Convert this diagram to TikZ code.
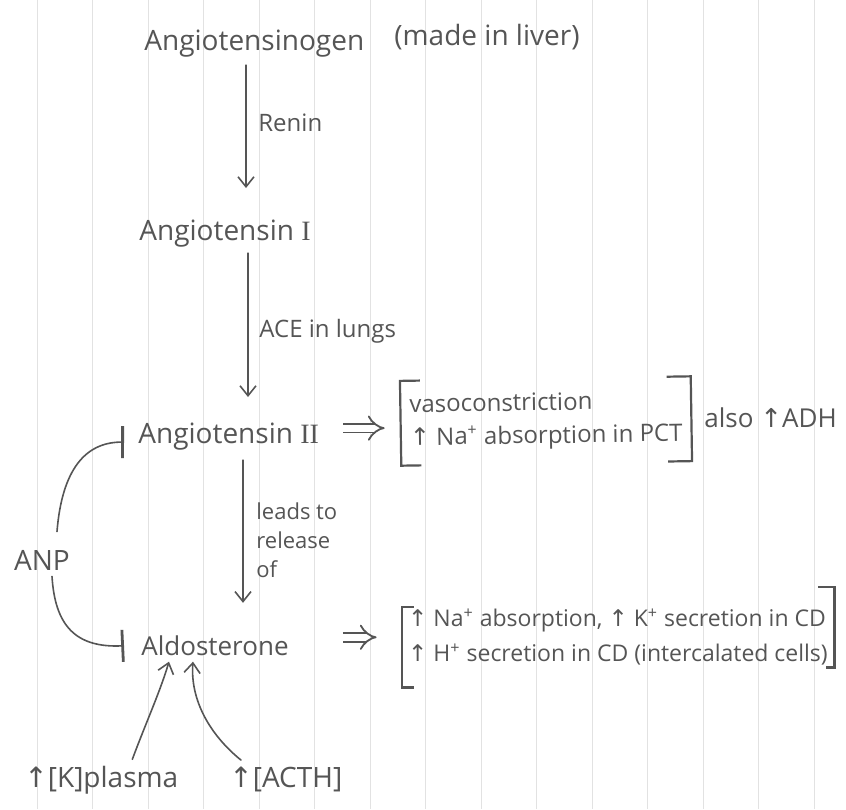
\documentclass[tikz,border=0pt]{standalone}
\usepackage{fontspec}
\setmainfont{Open Sans}
\newfontfamily\symf{DejaVu Sans}
\newfontfamily\serf{Liberation Serif}
\usetikzlibrary{arrows.meta,calc}
\newcommand{\upar}{{\symf ↑}}
\definecolor{pencil}{HTML}{555555}
\definecolor{ruling}{HTML}{E2E2E2}
\begin{document}
\begin{tikzpicture}[x=0.5pt,y=-0.5pt,
  every node/.style={text=pencil, inner sep=3pt},
  main/.style={font=\fontsize{14}{17}\selectfont},
  lbl/.style={font=\fontsize{12}{15}\selectfont, inner sep=0pt},
  eff/.style={font=\fontsize{12}{16.5}\selectfont, align=left, inner sep=0pt},
  pen/.style={draw=pencil, line width=0.8pt, line cap=round},
  arr/.style={pen, -{Straight Barb[length=5pt,width=8pt]}},
  inhib/.style={pen, -{Bar[width=16pt,line width=1.4pt]}},
  impl/.style={draw=pencil, line width=0.9pt, double=white, double distance=3.5pt, -{Implies[length=7pt,width=16pt]}},
  brk/.style={draw=pencil, line width=1.1pt},
]
\fill[white] (0,0) rectangle (846,809);
\useasboundingbox (0,0) rectangle (846,809);
\foreach \i in {0,...,14} \draw[ruling, line width=0.5pt] ({37+55.5*\i},0) -- ({37+55.5*\i},809);

% main chain
\node[main, anchor=base west] (ag) at (138,50) {Angiotensinogen};
\node[main, anchor=base west] (liver) at (388,45) {(made in liver)};
\node[main, anchor=base west] (a1) at (133,240) {Angiotensin {\serf I}};
\node[main, anchor=base west] (a2) at (132,443) {Angiotensin {\serf II}};
\node[main, font=\fontsize{13}{16}\selectfont, anchor=base west] (al) at (135,655) {Aldosterone};
\node[main, anchor=base] (anp) at (42,570) {ANP};
\node[main, anchor=base west] (kp) at (18,787) {\upar[K]plasma};
\node[main, anchor=base west] (acth) at (223,787) {\upar[ACTH]};

% labels
\node[lbl, anchor=base west] (renin) at (258,131) {Renin};
\node[lbl, anchor=base west] (ace) at (259,337) {ACE in lungs};
\node[lbl, font=\fontsize{11}{14.5}\selectfont, align=left, anchor=north west] (rel) at (256,502) {leads to\\release\\of};

% effects
\node[eff, minimum width=145pt, minimum height=42pt, rotate=0.9] (b1) at (546,421)
  {vasoconstriction\\\upar{} Na\textsuperscript{+} absorption in PCT};
\node[lbl, font=\fontsize{13}{16}\selectfont, anchor=base west] (adh) at (704,427) {also \upar{}ADH};
\node[eff, font=\fontsize{11.5}{17.5}\selectfont, minimum width=216pt, minimum height=40pt] (b2) at (618,637)
  {\upar{} Na\textsuperscript{+} absorption, \upar{} K\textsuperscript{+} secretion in CD\\\upar{} H\textsuperscript{+} secretion in CD (intercalated cells)};

% brackets
\draw[brk] ($(b1.north west)!10pt!(b1.north east)$) -- (b1.north west) -- (b1.south west) -- ($(b1.south west)!10pt!(b1.south east)$);
\draw[brk] ($(b1.north east)!12pt!(b1.north west)$) -- (b1.north east) -- (b1.south east) -- ($(b1.south east)!12pt!(b1.south west)$);
\draw[brk] ([xshift=6pt,yshift=-5pt]b2.north west) -- ([yshift=-5pt]b2.north west) -- ([yshift=-5pt]b2.south west) -- ([xshift=6pt,yshift=-5pt]b2.south west);
\draw[brk] ([xshift=-8pt,yshift=5pt]b2.north east) -- ([yshift=5pt]b2.north east) -- ([yshift=5pt]b2.south east) -- ([xshift=-4pt,yshift=5pt]b2.south east);

% vertical arrows
\coordinate (x1) at (246,0);
\coordinate (x2) at (248,0);
\coordinate (x3) at (243,0);
\draw[arr, shorten <=1pt, shorten >=12.5pt] (ag.south -| x1) -- (a1.north -| x1);
\draw[arr, shorten >=9.5pt] (a1.south -| x2) -- (a2.north -| x2);
\draw[arr, shorten <=2pt, shorten >=13pt] (a2.south -| x3) -- (al.north -| x3);

% implies arrows
\draw[impl, shorten <=9pt, shorten >=8pt] ([yshift=4pt]a2.east) -- ([yshift=4pt]a2.east -| b1.west);
\draw[impl, shorten <=24pt, shorten >=12.5pt] ([yshift=4pt]al.east) -- ([yshift=4pt]al.east -| b2.west);

% ANP inhibition
\draw[inhib, shorten >=4pt] ([xshift=7.5pt,yshift=6pt]anp.north) .. controls (62,470) and (85,442) .. ([yshift=-3pt]a2.west);
\draw[inhib, shorten >=5.5pt] ([xshift=5pt]anp.south) .. controls (55,625) and (75,648) .. (al.west);

% stimulators of aldosterone
\draw[arr] ([xshift=15.5pt]kp.north) .. controls (145,725) and (160,692) .. ([xshift=17pt]al.south west);
\draw[arr] ([xshift=9pt]acth.north west) .. controls (210,735) and (190,700) .. ([xshift=29pt]al.south west);
\end{tikzpicture}
\end{document}
